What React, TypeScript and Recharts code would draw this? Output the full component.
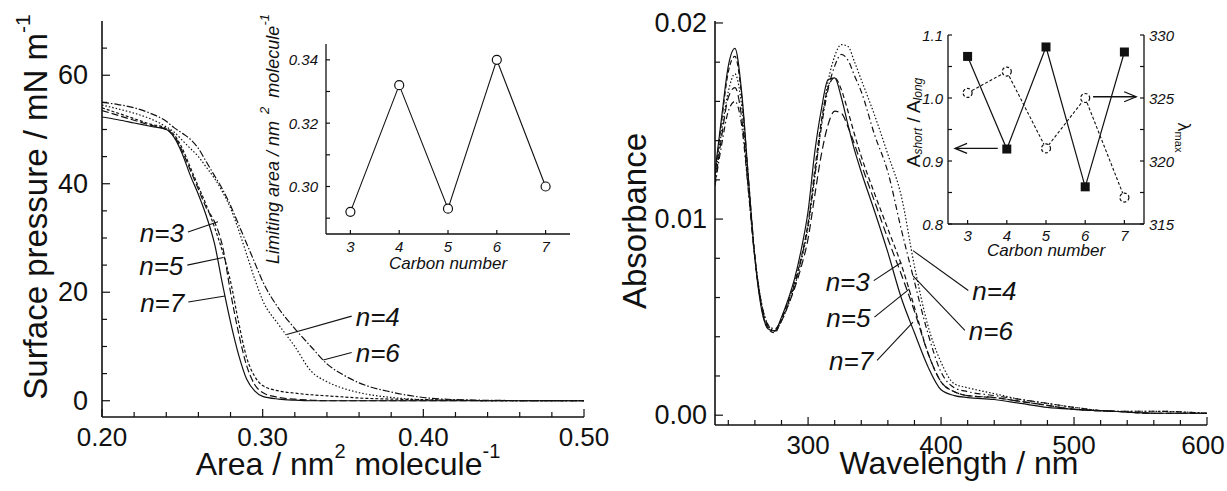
import React from 'react';
import { LineChart, Line, XAxis, YAxis, ReferenceLine } from 'recharts';

const FONT = '"Liberation Sans", Arial, Helvetica, sans-serif';
const INK = '#111';

// ---------- Left panel: surface pressure isotherms ----------
const area = [0.20, 0.21, 0.22, 0.23, 0.24, 0.245, 0.25, 0.255, 0.26, 0.265, 0.27, 0.275, 0.28, 0.285, 0.29, 0.295, 0.30, 0.31, 0.32, 0.33, 0.34, 0.35, 0.36, 0.38, 0.40, 0.42, 0.45, 0.50];
const piN3 = [53.5, 52.6, 51.7, 50.8, 50.0, 48.8, 46.0, 42.5, 39.0, 35.5, 33.0, 28.5, 20.0, 12.5, 6.5, 3.0, 1.5, 0.6, 0.3, 0.1, 0, 0, 0, 0, 0, 0, 0, 0];
const piN4 = [54.5, 53.8, 53.0, 52.0, 50.5, 49.5, 48.0, 46.5, 45.0, 43.0, 41.0, 38.5, 35.5, 31.5, 27.0, 22.5, 18.5, 14.0, 10.0, 5.5, 3.5, 2.3, 1.5, 0.6, 0.2, 0.1, 0, 0];
const piN5 = [54.0, 53.0, 52.0, 51.0, 50.2, 49.0, 46.5, 43.0, 39.5, 36.0, 32.0, 27.5, 22.0, 14.5, 8.0, 4.5, 2.8, 1.8, 1.4, 1.1, 0.9, 0.7, 0.5, 0.3, 0.2, 0.1, 0, 0];
const piN6 = [55.0, 54.6, 54.0, 53.0, 51.5, 50.3, 49.3, 48.2, 46.5, 44.0, 41.5, 39.0, 36.0, 32.5, 29.0, 25.5, 22.0, 17.0, 13.3, 10.0, 6.8, 4.8, 3.3, 1.6, 0.6, 0.2, 0.05, 0];
const piN7 = [52.3, 51.8, 51.2, 50.6, 50.0, 48.5, 45.5, 41.5, 38.0, 34.0, 29.0, 21.5, 14.5, 8.5, 4.0, 1.8, 0.8, 0.3, 0.1, 0, 0, 0, 0, 0, 0, 0, 0, 0];
const areaTicks = [0.2, 0.22, 0.24, 0.26, 0.28, 0.3, 0.32, 0.34, 0.36, 0.38, 0.4, 0.42, 0.44, 0.46, 0.48, 0.5];
const areaMajor = [0.2, 0.3, 0.4, 0.5];
const piTicks = [0, 5, 10, 15, 20, 25, 30, 35, 40, 45, 50, 55, 60, 65];
const piMajor = [0, 20, 40, 60];

// Left inset: limiting area vs carbon number
const carbon = [3, 4, 5, 6, 7];
const limitingArea = [0.292, 0.332, 0.293, 0.340, 0.300];
const laTicks = [0.29, 0.30, 0.31, 0.32, 0.33, 0.34];
const laMajor = [0.30, 0.32, 0.34];

// ---------- Right panel: absorbance spectra ----------
const wl = [230, 235, 240, 245, 250, 255, 260, 265, 270, 275, 280, 285, 290, 295, 300, 305, 310, 315, 320, 325, 330, 335, 340, 350, 360, 370, 380, 390, 400, 410, 420, 440, 460, 480, 500, 530, 560, 600];
const abN3 = [.0122, .0150, .0175, .0183, .0163, .0122, .0081, .0055, .0044, .0042, .0049, .0058, .0068, .0081, .0098, .0125, .0150, .0167, .0172, .0166, .0155, .0143, .0132, .0113, .0095, .0077, .0055, .0032, .0017, .0012, .0010, .0009, .0007, .0005, .0003, .0002, .0001, .0001];
const abN4 = [.0120, .0145, .0165, .0174, .0158, .0119, .0081, .0057, .0046, .0043, .0048, .0056, .0066, .0079, .0096, .0121, .0148, .0170, .0183, .0189, .0188, .0180, .0171, .0153, .0133, .0112, .0076, .0046, .0027, .0016, .0014, .0011, .0008, .0006, .0004, .0002, .0002, .0001];
const abN5 = [.0118, .0142, .0162, .0167, .0152, .0116, .0080, .0056, .0045, .0043, .0048, .0056, .0065, .0076, .0090, .0112, .0133, .0148, .0155, .0154, .0147, .0138, .0128, .0109, .0090, .0072, .0053, .0032, .0017, .0012, .0010, .0009, .0007, .0005, .0003, .0002, .0001, .0001];
const abN6 = [.0117, .0138, .0155, .0160, .0148, .0115, .0080, .0057, .0046, .0044, .0049, .0057, .0067, .0080, .0097, .0122, .0147, .0166, .0178, .0184, .0181, .0173, .0165, .0143, .0124, .0095, .0068, .0042, .0022, .0014, .0012, .0010, .0008, .0006, .0004, .0002, .0002, .0001];
const abN7 = [.0124, .0152, .0178, .0187, .0165, .0122, .0080, .0054, .0044, .0043, .0050, .0059, .0070, .0085, .0104, .0134, .0156, .0171, .0172, .0162, .0148, .0135, .0124, .0104, .0083, .0060, .0042, .0025, .0013, .0010, .0009, .0008, .0006, .0004, .0003, .0002, .0001, .0001];
const wlTicks = [240, 260, 280, 300, 320, 340, 360, 380, 400, 420, 440, 460, 480, 500, 520, 540, 560, 580, 600];
const wlMajor = [300, 400, 500, 600];
const abTicks = [0, 0.002, 0.004, 0.006, 0.008, 0.01, 0.012, 0.014, 0.016, 0.018, 0.02];
const abMajor = [0, 0.01, 0.02];

// Right inset: A_short/A_long and lambda_max vs carbon number
const ratio = [1.066, 0.919, 1.081, 0.859, 1.073];
const lambdaMax = [325.4, 327.1, 321.0, 325.0, 317.1];
const ratioTicks = [0.8, 0.85, 0.9, 0.95, 1.0, 1.05, 1.1];
const ratioMajor = [0.8, 0.9, 1.0, 1.1];
const lmTicks = [315, 317.5, 320, 322.5, 325, 327.5, 330];
const lmMajor = [315, 320, 325, 330];

// Annotations (data coordinates): [text side point, curve point]
const leftNotes = [
  { text: 'n=3', p: [0.2535, 31.1], q: [0.2722, 33.0], side: 'end' },
  { text: 'n=5', p: [0.2531, 25.0], q: [0.2755, 26.4], side: 'end' },
  { text: 'n=7', p: [0.2537, 18.2], q: [0.2766, 19.3], side: 'end' },
  { text: 'n=4', p: [0.3554, 15.6], q: [0.3150, 12.2], side: 'start' },
  { text: 'n=6', p: [0.3554, 8.9], q: [0.3377, 7.5], side: 'start' },
];
const rightNotes = [
  { text: 'n=3', p: [349.4, 0.00686], q: [370.1, 0.00779], side: 'end' },
  { text: 'n=5', p: [349.9, 0.0050], q: [376.3, 0.00644], side: 'end' },
  { text: 'n=7', p: [351.9, 0.0028], q: [378.9, 0.00474], side: 'end' },
  { text: 'n=4', p: [420.5, 0.00636], q: [378.9, 0.00839], side: 'start' },
  { text: 'n=6', p: [417.9, 0.00432], q: [378.9, 0.0071], side: 'start' },
];

const isoData = area.map((a, i) => ({ a, n3: piN3[i], n4: piN4[i], n5: piN5[i], n6: piN6[i], n7: piN7[i] }));
const specData = wl.map((w, i) => ({ w, n3: abN3[i], n4: abN4[i], n5: abN5[i], n6: abN6[i], n7: abN7[i] }));
const laData = carbon.map((c, i) => ({ c, v: limitingArea[i] }));
const insetR = carbon.map((c, i) => ({ c, r: ratio[i], l: lambdaMax[i] }));

type TickCfg = { side: 'bottom' | 'left' | 'right'; majors: number[]; digits: number; size: number; italic?: boolean; major: number; minor: number; gap: number; lastShift?: number; lastValue?: number };
const near = (arr: number[], v: number) => arr.some((m) => Math.abs(m - v) < 1e-6);
function makeTick(c: TickCfg) {
  return (props: any) => {
    const x = Number(props.x);
    const y = Number(props.y);
    const v = Number(props.payload?.value);
    const isMajor = near(c.majors, v);
    const len = isMajor ? c.major : c.minor;
    const label = isMajor ? v.toFixed(c.digits) : null;
    const tp = { fontFamily: FONT, fontSize: c.size, fontStyle: c.italic ? 'italic' : 'normal', fill: INK } as any;
    if (c.side === 'bottom') {
      const shift = c.lastValue !== undefined && Math.abs(v - c.lastValue) < 1e-9 ? (c.lastShift || 0) : 0;
      return (
        <g>
          <line x1={x} y1={y} x2={x} y2={y - len} stroke={INK} strokeWidth={1.2} />
          {label && <text x={x + shift} y={y + c.gap} textAnchor="middle" dominantBaseline="central" {...tp}>{label}</text>}
        </g>
      );
    }
    if (c.side === 'left') {
      return (
        <g>
          <line x1={x} y1={y} x2={x + len} y2={y} stroke={INK} strokeWidth={1.2} />
          {label && <text x={x - c.gap} y={y} textAnchor="end" dominantBaseline="central" {...tp}>{label}</text>}
        </g>
      );
    }
    return (
      <g>
        <line x1={x} y1={y} x2={x - len} y2={y} stroke={INK} strokeWidth={1.2} />
        {label && <text x={x + c.gap} y={y} textAnchor="start" dominantBaseline="central" {...tp}>{label}</text>}
      </g>
    );
  };
}

const xTitle = (children: React.ReactNode, dx: number, dy: number, size: number, italic = false) => (props: any) => {
  const vb = props.viewBox || {};
  return (
    <text x={vb.x + vb.width / 2 + dx} y={vb.y + dy} textAnchor="middle" dominantBaseline="central"
      fontFamily={FONT} fontSize={size} fontStyle={italic ? 'italic' : 'normal'} fill={INK}>{children}</text>
  );
};
const yTitle = (children: React.ReactNode, cxOff: number, dy: number, size: number, italic = false, angle = -90, anchor = 'middle') => (props: any) => {
  const vb = props.viewBox || {};
  const cx = vb.x + cxOff;
  const cy = vb.y + vb.height / 2 + dy;
  return (
    <text x={cx} y={cy} transform={`rotate(${angle} ${cx} ${cy})`} textAnchor={anchor as any} dominantBaseline="central"
      fontFamily={FONT} fontSize={size} fontStyle={italic ? 'italic' : 'normal'} fill={INK}>{children}</text>
  );
};

const leaderShape = (text: string, side: string) => (p: any) => {
  const tx = side === 'end' ? p.x1 - 4 : p.x1 + 4;
  return (
    <g>
      <line x1={p.x1} y1={p.y1} x2={p.x2} y2={p.y2} stroke={INK} strokeWidth={1.1} />
      <text x={tx} y={p.y1 + 1} textAnchor={side as any} dominantBaseline="central" fontFamily={FONT}
        fontSize={26} fontStyle="italic" fill={INK}>{text}</text>
    </g>
  );
};

const arrowShape = (p: any) => {
  const dx = p.x2 - p.x1;
  const dy = p.y2 - p.y1;
  const L = Math.hypot(dx, dy) || 1;
  const ux = dx / L, uy = dy / L;
  const hx = p.x2 - ux * 12, hy = p.y2 - uy * 12;
  return (
    <g>
      <line x1={p.x1} y1={p.y1} x2={p.x2} y2={p.y2} stroke={INK} strokeWidth={1.3} />
      <polyline points={`${hx - uy * 5},${hy + ux * 5} ${p.x2},${p.y2} ${hx + uy * 5},${hy - ux * 5}`} fill="none" stroke={INK} strokeWidth={1.3} />
    </g>
  );
};

const squareDot = (p: any) => <rect key={`sq${p.index}`} x={p.cx - 4.5} y={p.cy - 4.5} width={9} height={9} fill={INK} />;

const frame = { stroke: INK, strokeWidth: 1.6 };
const insetFrame = { stroke: INK, strokeWidth: 1.3 };

export default function App() {
  return (
    <div style={{ position: 'absolute', left: 0, top: 0, width: 1227, height: 491, background: '#fff' }}>
      {/* Left main */}
      <div style={{ position: 'absolute', left: 0, top: 0 }}>
        <LineChart width={610} height={491} data={isoData} margin={{ top: 21, right: 26, bottom: 0, left: 0 }}>
          <XAxis dataKey="a" type="number" domain={[0.2, 0.5]} allowDataOverflow ticks={areaTicks} interval={0}
            tickSize={0} tickMargin={0} tickLine={false} axisLine={frame} height={74}
            tick={makeTick({ side: 'bottom', majors: areaMajor, digits: 2, size: 26, major: 8, minor: 5, gap: 20 })}
            label={xTitle(<><tspan>Area / nm</tspan><tspan dy={-13} fontSize={20}>2</tspan><tspan dy={13}>{' molecule'}</tspan><tspan dy={-13} fontSize={20}>-1</tspan></>, 5, 47, 32)} />
          <XAxis xAxisId="top" orientation="top" dataKey="a" type="number" domain={[0.2, 0.5]} allowDataOverflow height={0} tick={false} tickLine={false} axisLine={frame} />
          <YAxis type="number" domain={[-3, 70]} allowDataOverflow ticks={piTicks} interval={0} width={102}
            tickSize={0} tickMargin={0} tickLine={false} axisLine={frame}
            tick={makeTick({ side: 'left', majors: piMajor, digits: 0, size: 27, major: 8, minor: 5, gap: 14 })}
            label={yTitle(<><tspan>Surface pressure / mN m</tspan><tspan dy={-13} fontSize={21}>-1</tspan></>, 35, -12, 33)} />
          <YAxis yAxisId="r" orientation="right" type="number" domain={[-3, 70]} allowDataOverflow width={0} tick={false} tickLine={false} axisLine={frame} />
          <Line dataKey="n7" type="monotone" stroke={INK} strokeWidth={1.2} dot={false} isAnimationActive={false} />
          <Line dataKey="n3" type="monotone" stroke={INK} strokeWidth={1.2} strokeDasharray="7 3" dot={false} isAnimationActive={false} />
          <Line dataKey="n5" type="monotone" stroke={INK} strokeWidth={1.2} strokeDasharray="3 2" dot={false} isAnimationActive={false} />
          <Line dataKey="n4" type="monotone" stroke={INK} strokeWidth={1.2} strokeDasharray="1.5 2" dot={false} isAnimationActive={false} />
          <Line dataKey="n6" type="monotone" stroke={INK} strokeWidth={1.2} strokeDasharray="7 2 1.5 2" dot={false} isAnimationActive={false} />
          {leftNotes.map((n) => (
            <ReferenceLine key={n.text} segment={[{ x: n.p[0], y: n.p[1] }, { x: n.q[0], y: n.q[1] }]} ifOverflow="visible"
              shape={leaderShape(n.text, n.side)} />
          ))}
        </LineChart>
      </div>

      {/* Left inset */}
      <div style={{ position: 'absolute', left: 240, top: 0 }}>
        <LineChart width={345} height={280} data={laData} margin={{ top: 44, right: 15, bottom: 0, left: 0 }}>
          <XAxis dataKey="c" type="number" domain={[2.5, 7.5]} allowDataOverflow ticks={carbon} interval={0}
            tickSize={0} tickMargin={0} tickLine={false} axisLine={insetFrame} height={46}
            tick={makeTick({ side: 'bottom', majors: carbon, digits: 0, size: 15, italic: true, major: 4, minor: 4, gap: 12 })}
            label={xTitle('Carbon number', 0, 29, 17, true)} />
          <XAxis xAxisId="top" orientation="top" dataKey="c" type="number" domain={[2.5, 7.5]} allowDataOverflow height={0} tick={false} tickLine={false} axisLine={insetFrame} />
          <YAxis type="number" domain={[0.285, 0.345]} allowDataOverflow ticks={laTicks} interval={0} width={86}
            tickSize={0} tickMargin={0} tickLine={false} axisLine={insetFrame}
            tick={makeTick({ side: 'left', majors: laMajor, digits: 2, size: 15, italic: true, major: 4, minor: 4, gap: 8 })}
            label={yTitle(<><tspan>Limiting area / nm</tspan><tspan dx={7} dy={-9} fontSize={13}>2</tspan><tspan dx={9} dy={9}>molecule</tspan><tspan dy={-9} fontSize={13}>-1</tspan></>, 33, 0, 18, true)} />
          <YAxis yAxisId="r" orientation="right" type="number" domain={[0.285, 0.345]} allowDataOverflow width={0} tick={false} tickLine={false} axisLine={insetFrame} />
          <Line dataKey="v" type="linear" stroke={INK} strokeWidth={1.1} isAnimationActive={false}
            dot={{ r: 4.5, fill: '#fff', stroke: INK, strokeWidth: 1.2 }} />
        </LineChart>
      </div>

      {/* Right main */}
      <div style={{ position: 'absolute', left: 610, top: 0 }}>
        <LineChart width={617} height={491} data={specData} margin={{ top: 21, right: 20, bottom: 0, left: 0 }}>
          <XAxis dataKey="w" type="number" domain={[230, 600]} allowDataOverflow ticks={wlTicks} interval={0}
            tickSize={0} tickMargin={0} tickLine={false} axisLine={frame} height={66}
            tick={makeTick({ side: 'bottom', majors: wlMajor, digits: 0, size: 26, major: 8, minor: 5, gap: 20, lastValue: 600, lastShift: -4 })}
            label={xTitle('Wavelength / nm', -2, 38, 32)} />
          <XAxis xAxisId="top" orientation="top" dataKey="w" type="number" domain={[230, 600]} allowDataOverflow height={0} tick={false} tickLine={false} axisLine={frame} />
          <YAxis type="number" domain={[-0.0005, 0.0201]} allowDataOverflow ticks={abTicks} interval={0} width={105}
            tickSize={0} tickMargin={0} tickLine={false} axisLine={frame}
            tick={makeTick({ side: 'left', majors: abMajor, digits: 2, size: 27, major: 8, minor: 5, gap: 8 })}
            label={yTitle('Absorbance', 24, -2, 33)} />
          <YAxis yAxisId="r" orientation="right" type="number" domain={[-0.0005, 0.0201]} allowDataOverflow width={0} tick={false} tickLine={false} axisLine={frame} />
          <Line dataKey="n7" type="monotone" stroke={INK} strokeWidth={1.2} dot={false} isAnimationActive={false} />
          <Line dataKey="n3" type="monotone" stroke={INK} strokeWidth={1.2} strokeDasharray="5 3" dot={false} isAnimationActive={false} />
          <Line dataKey="n5" type="monotone" stroke={INK} strokeWidth={1.2} strokeDasharray="8 4" dot={false} isAnimationActive={false} />
          <Line dataKey="n6" type="monotone" stroke={INK} strokeWidth={1.2} strokeDasharray="6 3 1.5 3" dot={false} isAnimationActive={false} />
          <Line dataKey="n4" type="monotone" stroke={INK} strokeWidth={1.2} strokeDasharray="1.5 2" dot={false} isAnimationActive={false} />
          {rightNotes.map((n) => (
            <ReferenceLine key={n.text} segment={[{ x: n.p[0], y: n.p[1] }, { x: n.q[0], y: n.q[1] }]} ifOverflow="visible"
              shape={leaderShape(n.text, n.side)} />
          ))}
        </LineChart>
      </div>

      {/* Right inset */}
      <div style={{ position: 'absolute', left: 860, top: 0 }}>
        <LineChart width={367} height={270} data={insetR} margin={{ top: 35, right: 0, bottom: 0, left: 0 }}>
          <XAxis dataKey="c" type="number" domain={[2.5, 7.5]} allowDataOverflow ticks={carbon} interval={0}
            tickSize={0} tickMargin={0} tickLine={false} axisLine={insetFrame} height={46}
            tick={makeTick({ side: 'bottom', majors: carbon, digits: 0, size: 15, italic: true, major: 4, minor: 4, gap: 11 })}
            label={xTitle('Carbon number', 0, 26, 17, true)} />
          <XAxis xAxisId="top" orientation="top" dataKey="c" type="number" domain={[2.5, 7.5]} allowDataOverflow height={0} tick={false} tickLine={false} axisLine={insetFrame} />
          <YAxis yAxisId="L" type="number" domain={[0.8, 1.1]} allowDataOverflow ticks={ratioTicks} interval={0} width={88}
            tickSize={0} tickMargin={0} tickLine={false} axisLine={insetFrame}
            tick={makeTick({ side: 'left', majors: ratioMajor, digits: 1, size: 15, italic: true, major: 4, minor: 4, gap: 5 })}
            label={yTitle(<><tspan>A</tspan><tspan dy={5} fontSize={12} fontStyle="italic">short</tspan><tspan dy={-5}>{' / A'}</tspan><tspan dy={5} fontSize={12} fontStyle="italic">long</tspan></>, 53, -7, 19)} />
          <YAxis yAxisId="R" orientation="right" type="number" domain={[315, 330]} allowDataOverflow ticks={lmTicks} interval={0} width={83}
            tickSize={0} tickMargin={0} tickLine={false} axisLine={insetFrame}
            tick={makeTick({ side: 'right', majors: lmMajor, digits: 0, size: 15, italic: true, major: 4, minor: 4, gap: 5 })}
            label={yTitle(<><tspan>λ</tspan><tspan dy={5} fontSize={11}>max</tspan></>, 40, 8, 18, false, 90)} />
          <Line yAxisId="L" dataKey="r" type="linear" stroke={INK} strokeWidth={1.2} isAnimationActive={false} dot={squareDot} />
          <Line yAxisId="R" dataKey="l" type="linear" stroke={INK} strokeWidth={1.1} strokeDasharray="3 2" isAnimationActive={false}
            dot={{ r: 4.5, fill: '#fff', stroke: INK, strokeWidth: 1.2 }} />
          <ReferenceLine yAxisId="L" segment={[{ x: 3.77, y: 0.92 }, { x: 2.68, y: 0.92 }]} ifOverflow="visible" shape={arrowShape} />
          <ReferenceLine yAxisId="R" segment={[{ x: 6.2, y: 325.1 }, { x: 7.3, y: 325.1 }]} ifOverflow="visible" shape={arrowShape} />
        </LineChart>
      </div>
    </div>
  );
}
